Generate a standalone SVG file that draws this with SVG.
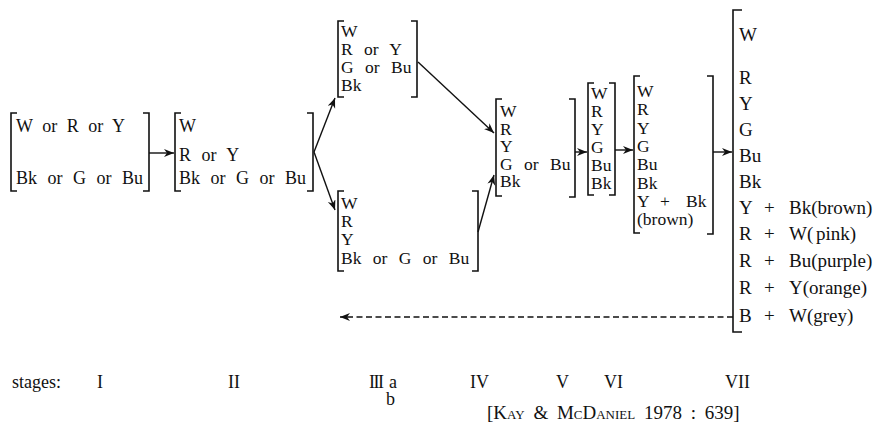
<svg xmlns="http://www.w3.org/2000/svg" width="879" height="425" viewBox="0 0 879 425">
<style>
text{font-family:"Liberation Serif","Times New Roman",serif;font-size:18px;fill:#111;word-spacing:6px}
.st{font-size:17.5px;word-spacing:7px}
.vii{font-size:19px}
.br{fill:none;stroke:#111;stroke-width:1.6}
.cn{fill:none;stroke:#111;stroke-width:1.4}
.dash{stroke-dasharray:6 3.5}
.lab{font-size:18px;word-spacing:0}
.cite{font-size:19px;word-spacing:4px}
</style>
<defs>
<marker id="ah" markerUnits="userSpaceOnUse" markerWidth="12" markerHeight="10" refX="10" refY="4" orient="auto">
<path d="M0,0 L10,4 L0,8 L3,4 z" fill="#111"/>
</marker>
</defs>
<rect width="879" height="425" fill="#fff"/>

<g id="stage-I">
<path class="br" d="M17,113 H11 V191 H17"/>
<path class="br" d="M143,113 H149 V191 H143"/>
<text x="16" y="132" style="word-spacing:5px">W or R or Y</text>
<text x="16" y="184">Bk or G or Bu</text>
</g>

<g id="stage-II">
<path class="br" d="M181,113 H175 V191 H181"/>
<path class="br" d="M307,113 H313 V191 H307"/>
<text x="179" y="132">W</text>
<text x="179" y="161">R or Y</text>
<text x="179" y="184">Bk or G or Bu</text>
</g>

<g id="stage-IIIa">
<path class="br" d="M344,21 H338 V97 H344"/>
<path class="br" d="M411,21 H417 V97 H411"/>
<text class="st" x="341" y="37">W</text>
<text class="st" x="341" y="55">R or Y</text>
<text class="st" x="341" y="73">G or Bu</text>
<text class="st" x="341" y="91">Bk</text>
</g>

<g id="stage-IIIb">
<path class="br" d="M344,191 H338 V271 H344"/>
<path class="br" d="M472,191 H478 V271 H472"/>
<text class="st" x="341" y="209">W</text>
<text class="st" x="341" y="227">R</text>
<text class="st" x="341" y="245">Y</text>
<text class="st" x="341" y="264">Bk or G or Bu</text>
</g>

<g id="stage-IV">
<path class="br" d="M502,99 H496 V196 H502"/>
<path class="br" d="M569,99 H575 V197 H569"/>
<text class="st" x="500" y="117">W</text>
<text class="st" x="500" y="134.5">R</text>
<text class="st" x="500" y="152">Y</text>
<text class="st" x="500" y="169.5">G or Bu</text>
<text class="st" x="500" y="187">Bk</text>
</g>

<g id="stage-V">
<path class="br" d="M594,83 H588 V195 H594"/>
<path class="br" d="M609,83 H615 V195 H609"/>
<text class="st" x="591" y="99">W</text>
<text class="st" x="591" y="117">R</text>
<text class="st" x="591" y="135">Y</text>
<text class="st" x="591" y="153">G</text>
<text class="st" x="591" y="171">Bu</text>
<text class="st" x="591" y="189">Bk</text>
</g>

<g id="stage-VI">
<path class="br" d="M640,76 H634 V233 H640"/>
<path class="br" d="M707,76 H713 V234 H707"/>
<text class="st" x="637" y="97">W</text>
<text class="st" x="637" y="115">R</text>
<text class="st" x="637" y="134">Y</text>
<text class="st" x="637" y="152">G</text>
<text class="st" x="637" y="170">Bu</text>
<text class="st" x="637" y="189">Bk</text>
<text class="st" x="637" y="207">Y<tspan x="660">+</tspan><tspan x="686">Bk</tspan></text>
<text class="st" x="637" y="225">(brown)</text>
</g>

<g id="stage-VII">
<path class="br" d="M742,10 H733 V332 H742"/>
<text class="vii" x="739" y="41">W</text>
<text class="vii" x="739" y="84">R</text>
<text class="vii" x="739" y="110">Y</text>
<text class="vii" x="739" y="136">G</text>
<text class="vii" x="739" y="162">Bu</text>
<text class="vii" x="739" y="188">Bk</text>
<text class="vii" x="739" y="214">Y<tspan x="764">+</tspan><tspan x="789">Bk(brown)</tspan></text>
<text class="vii" x="739" y="240">R<tspan x="764">+</tspan><tspan x="789">W(</tspan><tspan x="816">pink)</tspan></text>
<text class="vii" x="739" y="267">R<tspan x="764">+</tspan><tspan x="789">Bu(purple)</tspan></text>
<text class="vii" x="739" y="294">R<tspan x="764">+</tspan><tspan x="789">Y(orange)</tspan></text>
<text class="vii" x="739" y="322">B<tspan x="764">+</tspan><tspan x="789">W(grey)</tspan></text>
</g>

<g id="connectors">
<line class="cn" x1="149" y1="153" x2="174" y2="153" marker-end="url(#ah)"/>
<line class="cn" x1="314" y1="152" x2="335" y2="98" marker-end="url(#ah)"/>
<line class="cn" x1="314" y1="152" x2="335" y2="210" marker-end="url(#ah)"/>
<line class="cn" x1="418" y1="62" x2="494" y2="133" marker-end="url(#ah)"/>
<line class="cn" x1="478" y1="232" x2="494" y2="175" marker-end="url(#ah)"/>
<line class="cn" x1="575" y1="152" x2="587" y2="152" marker-end="url(#ah)"/>
<line class="cn" x1="615" y1="150" x2="633" y2="150" marker-end="url(#ah)"/>
<line class="cn" x1="713" y1="152" x2="732" y2="152" marker-end="url(#ah)"/>
<line class="cn dash" x1="733" y1="317" x2="340" y2="317" marker-end="url(#ah)"/>
</g>

<g id="stage-labels">
<text class="lab" x="12" y="388">stages:</text>
<text class="lab" x="97" y="388">I</text>
<text class="lab" x="228" y="388">II</text>
<text class="lab" x="369" y="388" style="letter-spacing:-1.5px">III</text>
<text class="lab" x="389" y="388">a</text>
<text class="lab" x="386" y="405">b</text>
<text class="lab" x="470" y="388">IV</text>
<text class="lab" x="556" y="388">V</text>
<text class="lab" x="604" y="388">VI</text>
<text class="lab" x="725" y="388">VII</text>
</g>

<g id="citation">
<text class="cite" x="487" y="419">[<tspan font-variant="small-caps">Kay &amp; McDaniel</tspan> 1978 : 639]</text>
</g>
</svg>
